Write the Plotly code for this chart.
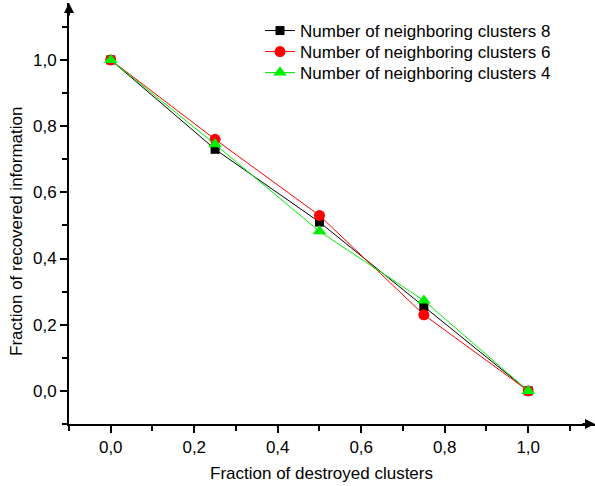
import plotly.graph_objects as go

x_vals = [0.0, 0.25, 0.5, 0.75, 1.0]
y_n8 = [1.0, 0.73, 0.51, 0.255, 0.0]
y_n6 = [1.0, 0.76, 0.53, 0.23, 0.0]
y_n4 = [1.0, 0.745, 0.482, 0.273, 0.0]
series_names = ["Number of neighboring clusters 8",
                "Number of neighboring clusters 6",
                "Number of neighboring clusters 4"]
x_title = "Fraction of destroyed clusters"
y_title = "Fraction of recovered information"

FONT = "Liberation Sans, Arial, sans-serif"
FS = 17

fig = go.Figure()
fig.add_trace(go.Scatter(x=x_vals, y=y_n8, name=series_names[0], mode="lines+markers",
                         line=dict(color="black", width=1), legend="legend", showlegend=True,
                         marker=dict(symbol="square", size=9, color="black")))
fig.add_trace(go.Scatter(x=x_vals, y=y_n6, name=series_names[1], mode="lines+markers",
                         line=dict(color="#ff0000", width=1), legend="legend2", showlegend=True,
                         marker=dict(symbol="circle", size=11, color="#ff0000")))
fig.add_trace(go.Scatter(x=x_vals, y=y_n4, name=series_names[2], mode="lines+markers",
                         line=dict(color="#00ee00", width=1), legend="legend3", showlegend=True,
                         marker=dict(symbol="triangle-up", size=12, color="#00ee00")))

axis_common = dict(
    showgrid=False, zeroline=False, showline=True, linecolor="black", linewidth=2,
    ticks="outside", ticklen=7, tickwidth=2, tickcolor="black",
    tickformat=".1f", tickfont=dict(family=FONT, size=FS, color="black"),
    mirror=False, automargin=False,
)

fig.update_xaxes(range=[-0.1, 1.16], tick0=0, dtick=0.2,
                 minor=dict(ticks="outside", ticklen=5, tickwidth=2, tickcolor="black", dtick=0.1, tick0=0.1),
                 **axis_common)
fig.update_yaxes(range=[-0.1, 1.172], tick0=0, dtick=0.2,
                 minor=dict(ticks="outside", ticklen=5, tickwidth=2, tickcolor="black", dtick=0.1, tick0=0.1),
                 **axis_common)

# axis arrows
fig.add_annotation(x=1.16, y=-0.1, xref="x", yref="y", ax=-14, ay=0, showarrow=True,
                   arrowhead=2, arrowsize=1, arrowwidth=2, arrowcolor="black", text="")
fig.add_annotation(x=-0.1, y=1.172, xref="x", yref="y", ax=0, ay=14, showarrow=True,
                   arrowhead=2, arrowsize=1, arrowwidth=2, arrowcolor="black", text="")

# axis titles
fig.add_annotation(text=x_title, xref="paper", yref="paper", x=(321-69)/526, y=-(473-424)/421,
                   xanchor="center", yanchor="middle", showarrow=False,
                   font=dict(family=FONT, size=FS, color="black"))
fig.add_annotation(text=y_title, xref="paper", yref="paper", x=-(69-16)/526, y=1-(232-3)/421,
                   xanchor="center", yanchor="middle", showarrow=False, textangle=-90,
                   font=dict(family=FONT, size=FS, color="black"))

def leg(row_y):
    return dict(x=(260-69)/526, y=1-(row_y-3)/421, xanchor="left", yanchor="middle",
                bgcolor="rgba(0,0,0,0)", font=dict(family=FONT, size=FS, color="black"),
                itemwidth=30, visible=True)

fig.update_layout(
    width=595, height=486,
    margin=dict(l=69, r=0, t=3, b=62, autoexpand=False),
    paper_bgcolor="white", plot_bgcolor="white",
    separators=", ", showlegend=True,
    font=dict(family=FONT, size=FS, color="black"),
    legend=leg(31), legend2=leg(52), legend3=leg(73),
)

fig.write_html("out.html", config={"displayModeBar": False},
               post_script="document.body.style.margin='0';document.body.style.overflow='hidden';")
